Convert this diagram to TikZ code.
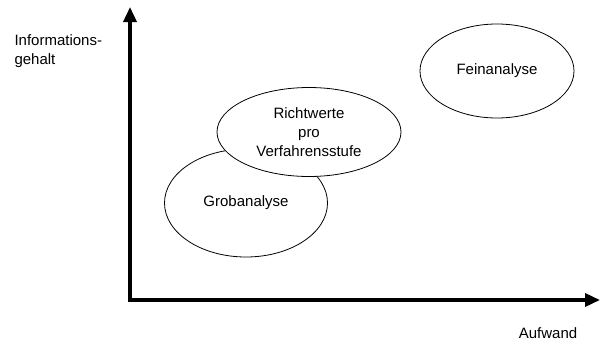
\documentclass[tikz,border=0pt]{standalone}
\usepackage{fontspec}
\setmainfont{Liberation Sans}
\usetikzlibrary{shapes.geometric,arrows.meta}
\begin{document}
\begin{tikzpicture}[x=1pt, y=-1pt,
                every node/.style = {align=center,
                        font=\fontsize{15}{19}\selectfont
                    },
                area/.style = {shape=ellipse, draw, fill=white,
                        line width=0.8pt, inner sep=0pt
                    },
                axis/.style = {line width=3.5pt,
                        -{Triangle[length=15pt,width=13pt]}
                    }]
            \useasboundingbox (0,0) rectangle (600,340);
            \coordinate (origin) at (130,300);
            \coordinate (ytop) at (130,7);
            \coordinate (xend) at (600,300);
            \draw[axis] ([yshift=-1.75pt]origin) -- (ytop);
            \draw[axis] ([xshift=-1.75pt]origin) -- (xend);
            \node[align=left, anchor=north west] (ylabel) at (11,31) {Informations-\\gehalt};
            \node (xlabel) at (548,333) {Aufwand};
            \node[area, minimum width=154pt, minimum height=94pt] (fein) at (497,71) {Feinanalyse};
            \node[area, minimum width=163pt, minimum height=108pt] (grob) at (246,203) {Grobanalyse};
            \node[area, minimum width=184pt, minimum height=89pt] (richt) at (309,132) {Richtwerte\\pro\\Verfahrensstufe};
        \end{tikzpicture}
\end{document}
